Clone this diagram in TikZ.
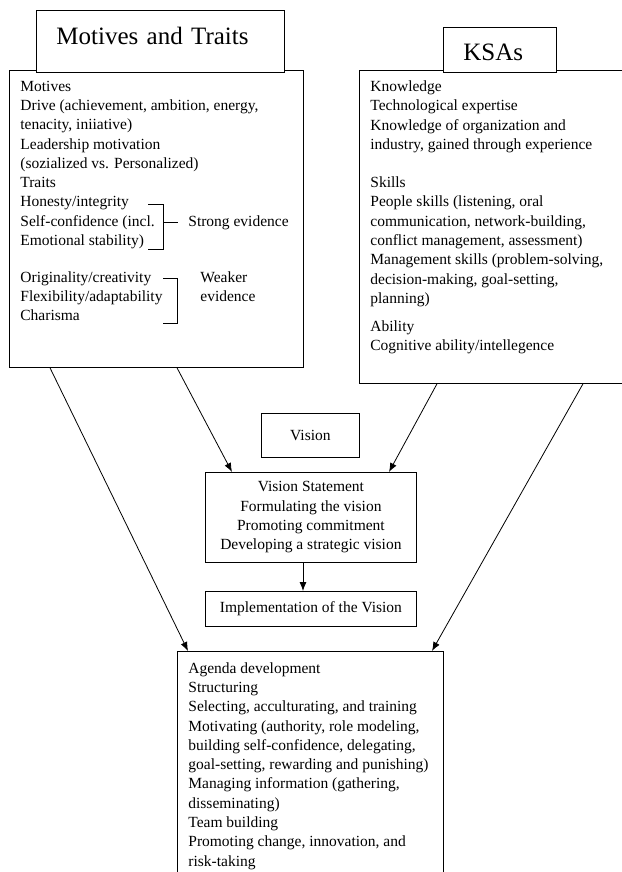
\documentclass[tikz,border=0pt]{standalone}
\usepackage{fontspec}
\setmainfont{Liberation Serif}
\usetikzlibrary{shapes,calc,arrows.meta}

\begin{document}
\begin{tikzpicture}
[x=1pt,y=-1pt,line width=0.8pt,
	every node/.style={inner sep=0pt,font=\fontsize{15.5}{19.3}\selectfont},
	box/.style={draw,fill=white,rectangle,anchor=north west},
	head/.style={box,align=left,inner xsep=20pt,font=\fontsize{25}{30}\selectfont},
	txt/.style={anchor=north west,align=left}]
\useasboundingbox (0,0) rectangle (621,872);

% source boxes
\node[box,minimum width=294pt,minimum height=297pt] (mt) at (9,70) {};
\node[box,minimum width=270pt,minimum height=313pt] (ksa) at (359,70) {};
\node[head,text width=208pt,minimum height=62pt,text depth=12pt] (mthead) at (36,10) {Motives and Traits};
\node[head,text width=73pt,minimum height=45pt,text height=21pt] (ksahead) at (443,27) {KSAs};

\node[txt] (mttext) at (20,80.5) {Motives\\ Drive (achievement, ambition, energy,\\
	tenacity, iniiative)\\ Leadership motivation\\ (sozialized vs. Personalized)\\
	Traits\\ Honesty/integrity\\ Self-confidence (incl.\\ Emotional stability)\\[17.5pt]
	Originality/creativity\\ Flexibility/adaptability\\ Charisma};
\node[txt,anchor=base west] (strong) at (188,226) {Strong evidence};
\node[txt] (weak) at (200,271.5) {Weaker\\ evidence};
\draw (148,204) -| (163,249) -- (148,249);
\draw (163,222) -- (178,222);
\draw (163,278) -| (177,323) -- (163,323);

\node[txt] (ksatext) at (370,80.5) {Knowledge\\ Technological expertise\\
	Knowledge of organization and\\ industry, gained through experience\\[18.7pt]
	Skills\\ People skills (listening, oral\\ communication, network-building,\\
	conflict management, assessment)\\ Management skills (problem-solving,\\
	decision-making, goal-setting,\\ planning)\\[8.5pt]
	Ability\\ Cognitive ability/intellegence};

% vision
\node[box,minimum width=98pt,minimum height=44pt] (vision) at (261,413) {Vision};
\node[box,minimum width=211pt,minimum height=90pt,align=center] (vstate) at (205,472)
{Vision Statement\\ Formulating the vision\\ Promoting commitment\\ Developing a strategic vision};
\node[box,minimum width=211pt,minimum height=35pt] (impl) at (205,591) {Implementation of the Vision};

% outcome
\node[box,minimum width=266pt,minimum height=240pt] (agenda) at (177,651) {};
\node[txt] (agtext) at (188,662) {Agenda development\\ Structuring\\
	Selecting, acculturating, and training\\ Motivating (authority, role modeling,\\
	building self-confidence, delegating,\\ goal-setting, rewarding and punishing)\\
	Managing information (gathering,\\ disseminating)\\ Team building\\
	Promoting change, innovation, and\\ risk-taking};

\path[-{Latex[length=9pt,width=7pt]}]
\foreach \startNode/\dx/\endNode/\tx in {mt/41/agenda/11,mt/168/vstate/27,
	ksa/78/vstate/184,ksa/224/agenda/255,vstate/98/impl/98}
{
	($(\startNode.south west)+(\dx,0)$) edge ($(\endNode.north west)+(\tx,0)$)
};
\end{tikzpicture}
\end{document}
